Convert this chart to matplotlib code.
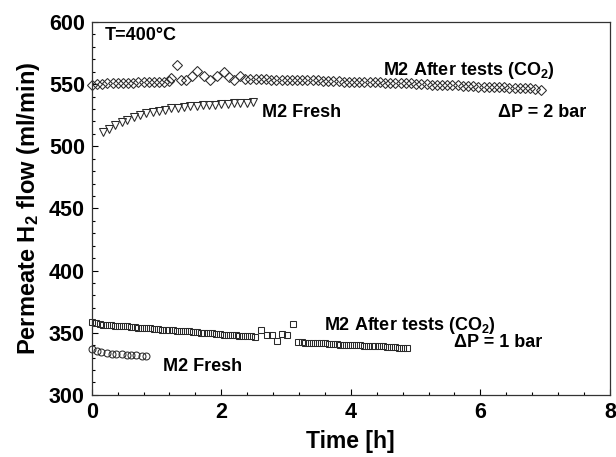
import matplotlib
matplotlib.use("Agg")
import matplotlib.pyplot as plt
from matplotlib.ticker import MultipleLocator

plt.rcParams['font.family'] = ['Liberation Sans', 'DejaVu Sans']
plt.rcParams['font.weight'] = 'bold'
plt.rcParams['mathtext.fontset'] = 'custom'
plt.rcParams['mathtext.rm'] = 'Liberation Sans:bold'
plt.rcParams['mathtext.default'] = 'rm'

# M2 after tests (CO2), dP = 2 bar  (diamonds)
t_after_2bar = [0.00, 0.08, 0.16, 0.24, 0.32, 0.40, 0.48, 0.56, 0.64, 0.72,
                0.80, 0.88, 0.96, 1.04, 1.12, 1.20, 1.23, 1.31, 1.38, 1.45,
                1.54, 1.63, 1.74, 1.83, 1.93, 2.04, 2.12, 2.20, 2.29, 2.37,
                2.45, 2.53, 2.61, 2.69, 2.77, 2.85, 2.93, 3.01, 3.09, 3.17,
                3.25, 3.33, 3.41, 3.49, 3.57, 3.65, 3.73, 3.81, 3.89, 3.97,
                4.05, 4.13, 4.21, 4.29, 4.37, 4.45, 4.53, 4.61, 4.69, 4.77,
                4.85, 4.93, 5.01, 5.09, 5.17, 5.25, 5.33, 5.41, 5.49, 5.57,
                5.65, 5.73, 5.81, 5.89, 5.97, 6.05, 6.13, 6.21, 6.29, 6.37,
                6.45, 6.53, 6.61, 6.69, 6.77, 6.85, 6.93]
q_after_2bar = [549.5, 550.0, 550.0, 550.5, 550.5, 550.5, 551.0, 551.0, 551.0, 551.5,
                551.5, 551.5, 552.0, 552.0, 552.0, 552.5, 554.5, 565.0, 553.0, 553.5,
                556.5, 560.5, 556.5, 553.5, 556.5, 559.5, 555.5, 553.5, 556.5, 554.0,
                554.0, 554.0, 554.0, 554.0, 553.5, 553.5, 553.5, 553.5, 553.5, 553.5,
                553.0, 553.0, 553.0, 553.0, 552.5, 552.5, 552.5, 552.5, 552.0, 552.0,
                552.0, 552.0, 551.5, 551.5, 551.5, 551.5, 551.0, 551.0, 551.0, 550.5,
                550.5, 550.5, 550.0, 550.0, 550.0, 549.5, 549.5, 549.5, 549.0, 549.0,
                549.0, 548.5, 548.5, 548.5, 548.0, 548.0, 548.0, 547.5, 547.5, 547.5,
                547.0, 547.0, 547.0, 546.5, 546.5, 546.0, 545.5]

# M2 fresh, dP = 2 bar  (triangles)
t_fresh_2bar = [0.17, 0.27, 0.36, 0.46, 0.55, 0.65, 0.75, 0.84, 0.94, 1.04,
                1.13, 1.23, 1.33, 1.42, 1.52, 1.62, 1.71, 1.81, 1.91, 2.00,
                2.10, 2.20, 2.29, 2.39, 2.49]
q_fresh_2bar = [511.5, 514.0, 517.0, 519.5, 521.5, 523.5, 525.0, 526.5, 527.5, 528.5,
                529.5, 530.5, 531.0, 531.5, 532.0, 532.5, 533.0, 533.0, 533.5, 534.0,
                534.0, 534.5, 535.0, 535.0, 535.5]

# M2 after tests (CO2), dP = 1 bar  (squares)
t_after_1bar = [0.00, 0.06, 0.12, 0.18, 0.24, 0.30, 0.36, 0.42, 0.48, 0.54,
                0.60, 0.66, 0.72, 0.78, 0.84, 0.90, 0.96, 1.02, 1.08, 1.14,
                1.20, 1.26, 1.32, 1.38, 1.44, 1.50, 1.56, 1.62, 1.68, 1.74,
                1.80, 1.86, 1.92, 1.98, 2.04, 2.10, 2.16, 2.22, 2.28, 2.34,
                2.40, 2.46, 2.52, 2.62, 2.70, 2.78, 2.86, 2.94, 3.02, 3.10,
                3.18, 3.24, 3.30, 3.36, 3.42, 3.48, 3.54, 3.60, 3.66, 3.72,
                3.78, 3.84, 3.90, 3.96, 4.02, 4.08, 4.14, 4.20, 4.26, 4.32,
                4.38, 4.44, 4.50, 4.56, 4.62, 4.68, 4.74, 4.80, 4.86]
q_after_1bar = [358.5, 358.0, 357.0, 356.5, 356.0, 356.0, 355.5, 355.5, 355.0, 355.0,
                354.5, 354.5, 354.0, 354.0, 353.5, 353.5, 353.0, 353.0, 352.5, 352.5,
                352.0, 352.0, 351.5, 351.5, 351.0, 351.0, 350.5, 350.5, 350.0, 350.0,
                349.5, 349.5, 349.0, 349.0, 348.5, 348.5, 348.0, 348.0, 347.5, 347.5,
                347.0, 347.0, 346.5, 352.0, 348.0, 348.5, 343.0, 349.0, 348.0, 357.0,
                342.5, 342.5, 342.0, 342.0, 342.0, 341.5, 341.5, 341.5, 341.0, 341.0,
                341.0, 340.5, 340.5, 340.5, 340.0, 340.0, 340.0, 339.5, 339.5, 339.5,
                339.0, 339.0, 339.0, 338.5, 338.5, 338.5, 338.0, 338.0, 338.0]

# M2 fresh, dP = 1 bar  (circles)
t_fresh_1bar = [0.00, 0.08, 0.15, 0.23, 0.31, 0.38, 0.46, 0.54, 0.61, 0.69, 0.77, 0.84]
q_fresh_1bar = [337.0, 335.5, 334.5, 333.5, 333.0, 332.5, 332.5, 332.0, 332.0, 332.0,
                331.5, 331.5]

fig = plt.figure(figsize=(6.16, 4.57), dpi=100)
ax = fig.add_axes((0.149, 0.136, 0.841, 0.816))

mk = dict(linestyle='none', markerfacecolor='none', markeredgecolor='#2a2a2a',
          markeredgewidth=0.75, clip_on=False)
ax.plot(t_after_2bar, q_after_2bar, marker='D', markersize=4.8, **mk)
ax.plot(t_fresh_2bar, q_fresh_2bar, marker='v', markersize=5.2, **mk)
ax.plot(t_after_1bar, q_after_1bar, marker='s', markersize=4.4, **mk)
ax.plot(t_fresh_1bar, q_fresh_1bar, marker='o', markersize=5.0, **mk)

ax.set_xlim(0, 8)
ax.set_ylim(300, 600)
ax.xaxis.set_major_locator(MultipleLocator(2))
ax.xaxis.set_minor_locator(MultipleLocator(0.4))
ax.yaxis.set_major_locator(MultipleLocator(50))
ax.yaxis.set_minor_locator(MultipleLocator(10))
ax.tick_params(which='both', direction='in', top=False, right=False,
               labelsize=15.5, pad=5, width=0.8)
ax.tick_params(which='major', length=4)
ax.tick_params(which='minor', length=2.5)
for s in ax.spines.values():
    s.set_linewidth(0.9)
    s.set_color('#333333')

ax.set_xlabel('Time [h]', fontsize=16.5, fontweight='bold', labelpad=5)
ax.set_ylabel('Permeate H$_2$ flow (ml/min)', fontsize=17, fontweight='bold',
              labelpad=5)

# annotations
fs = 13
ax.text(0.2, 589, 'T=400\u00b0C', fontsize=fs, fontweight='bold', va='center')
ax.text(4.5, 561, 'M2 After tests (CO$_2$)', fontsize=fs, fontweight='bold', va='center')
ax.text(2.63, 527.5, 'M2 Fresh', fontsize=fs, fontweight='bold', va='center')
ax.text(6.27, 527.5, '\u0394P = 2 bar', fontsize=fs, fontweight='bold', va='center')
ax.text(3.58, 356, 'M2 After tests (CO$_2$)', fontsize=fs, fontweight='bold', va='center')
ax.text(1.1, 323, 'M2 Fresh', fontsize=fs, fontweight='bold', va='center')
ax.text(5.6, 342, '\u0394P = 1 bar', fontsize=fs, fontweight='bold', va='center')

fig.savefig('out.png', dpi=100)
